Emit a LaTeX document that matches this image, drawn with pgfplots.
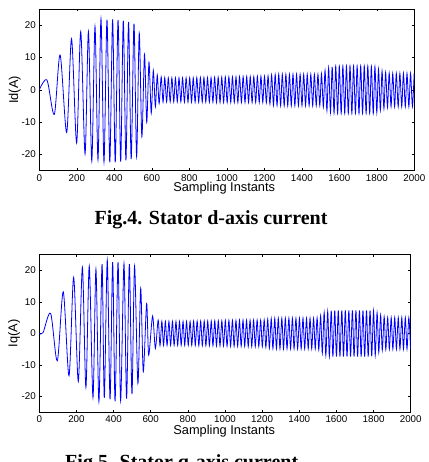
\documentclass[border=0pt]{standalone}
\usepackage{fontspec}
\setmainfont{Liberation Sans}
\newfontfamily\capfont{Liberation Serif}
\usepackage{pgfplots}
\pgfplotsset{compat=1.18}
\pgfplotstableread{
x y
0 0
41 3.0
80 -7.6
111 10.8
146 -13.2
172 15.8
199 -16.4
221 18.0
244 -19.8
262 18.0
280 -22.0
297 19.6
313 -21.6
329 22.0
345 -22.3
361 21.7
376 -22.4
391 21.8
405 -22.4
420 21.6
434 -22.2
448 21.4
462 -21.8
476 21.0
490 -21.4
505 20.5
519 -20.6
533 17.5
547 -14.5
561 11.0
573 -10.0
585 8.5
597 -7.2
608 6.0
619 -5.2
629 4.6
639 -4.2
650 4.0
660 -3.8
669 3.8
679 -3.7
688 3.7
698 -3.7
707 3.7
717 -3.7
726 3.7
736 -3.7
745 3.7
755 -3.7
764 3.7
774 -3.8
783 3.7
793 -3.8
802 3.7
812 -3.8
821 3.7
831 -3.8
840 3.8
850 -3.8
859 3.8
869 -3.8
878 3.8
888 -3.8
897 3.8
907 -3.8
916 3.8
926 -3.8
935 3.9
945 -3.9
954 3.9
964 -3.9
973 3.9
983 -3.9
992 4.0
1002 -3.9
1011 4.0
1021 -3.9
1030 4.0
1040 -3.9
1049 4.0
1059 -3.9
1068 4.1
1078 -3.9
1087 4.1
1097 -3.9
1106 4.1
1116 -3.9
1125 4.1
1135 -3.9
1144 4.1
1154 -3.9
1163 4.2
1173 -3.9
1182 4.2
1192 -3.9
1201 4.2
1211 -4.0
1220 4.3
1230 -4.4
1239 4.6
1249 -4.8
1258 4.7
1268 -4.8
1277 4.8
1287 -4.9
1296 4.8
1306 -4.9
1315 4.8
1325 -4.9
1334 4.8
1344 -4.9
1353 4.8
1363 -4.9
1372 4.8
1382 -4.9
1391 4.8
1401 -4.9
1410 4.8
1420 -4.9
1429 4.8
1439 -4.9
1448 4.8
1458 -4.9
1467 4.8
1477 -4.9
1486 4.8
1496 -4.9
1505 5.0
1515 -5.3
1524 6.0
1534 -6.4
1543 6.8
1553 -7.0
1562 7.1
1572 -7.2
1581 7.3
1591 -7.3
1600 7.3
1610 -7.3
1619 7.4
1629 -7.3
1638 7.4
1648 -7.3
1657 7.4
1667 -7.3
1676 7.4
1686 -7.3
1695 7.4
1705 -7.3
1714 7.4
1724 -7.3
1733 7.4
1743 -7.3
1752 7.4
1762 -7.3
1771 7.3
1781 -7.3
1790 7.2
1800 -7.0
1809 6.4
1819 -6.3
1828 5.8
1838 -5.8
1847 5.4
1857 -5.4
1866 5.2
1876 -5.2
1885 5.1
1895 -5.2
1904 5.1
1914 -5.2
1923 5.1
1933 -5.2
1942 5.1
1952 -5.2
1961 5.1
1971 -5.2
1980 5.1
1990 -5.2
1999 5.0
}\idtable
\pgfplotstableread{
x y
0 0
20 0.2
61 6.3
97 -8.7
129 13.2
160 -13.5
185 17.8
210 -15.3
232 21.0
251 -17.2
269 21.4
289 -20.4
305 20.4
321 -21.7
338 22.0
350 -20.5
366 23.3
381 -21.0
395 22.6
408 -21.6
424 22.6
438 -21.4
456 22.2
470 -20.7
485 22.0
499 -19.3
513 21.4
531 -15.9
546 14.3
560 -12.2
578 9.5
589 -6.9
610 5.5
625 -4.8
640 4.2
650 -3.9
660 3.8
669 -3.8
679 3.8
688 -3.8
698 3.8
707 -3.8
717 3.8
726 -3.8
736 3.8
745 -3.8
755 3.8
764 -3.8
774 3.8
783 -3.8
793 3.8
802 -3.8
812 3.8
821 -3.8
831 3.9
840 -3.8
850 3.9
859 -3.9
869 3.9
878 -3.9
888 3.9
897 -3.9
907 3.9
916 -3.9
926 3.9
935 -3.9
945 4.0
954 -4.0
964 4.0
973 -4.0
983 4.0
992 -4.0
1002 4.1
1011 -4.1
1021 4.1
1030 -4.1
1040 4.1
1049 -4.1
1059 4.1
1068 -4.1
1078 4.2
1087 -4.1
1097 4.2
1106 -4.1
1116 4.2
1125 -4.2
1135 4.2
1144 -4.2
1154 4.2
1163 -4.2
1173 4.2
1182 -4.2
1192 4.2
1201 -4.2
1211 4.3
1220 -4.4
1230 4.5
1239 -4.7
1249 4.7
1258 -4.8
1268 4.8
1277 -4.9
1287 4.8
1296 -4.9
1306 4.8
1315 -4.9
1325 4.8
1334 -4.9
1344 4.8
1353 -4.9
1363 4.8
1372 -4.9
1382 4.8
1391 -4.9
1401 4.8
1410 -4.9
1420 4.8
1429 -4.9
1439 4.8
1448 -4.9
1458 4.8
1467 -4.9
1477 4.8
1486 -4.9
1496 4.9
1505 -5.2
1515 5.6
1524 -6.3
1534 6.6
1543 -7.0
1553 7.0
1562 -7.3
1572 7.2
1581 -7.4
1591 7.3
1600 -7.4
1610 7.3
1619 -7.4
1629 7.3
1638 -7.4
1648 7.3
1657 -7.4
1667 7.3
1676 -7.4
1686 7.3
1695 -7.4
1705 7.3
1714 -7.4
1724 7.3
1733 -7.4
1743 7.3
1752 -7.4
1762 7.3
1771 -7.4
1781 7.3
1790 -7.3
1800 7.2
1809 -7.0
1819 6.6
1828 -6.0
1838 5.8
1847 -5.4
1857 5.3
1866 -5.1
1876 5.0
1885 -5.0
1895 5.0
1904 -5.0
1914 5.0
1923 -5.0
1933 5.0
1942 -5.0
1952 5.0
1961 -5.0
1971 5.0
1980 -5.0
1990 5.0
1999 -5.0
}\iqtable
\pgfplotsset{
  myaxis/.style={
    scale only axis,
    xmin=0, xmax=2000, ymin=-25, ymax=25,
    xtick={0,200,400,600,800,1000,1200,1400,1600,1800,2000},
    xticklabels={0,200,400,600,800,1000,1200,1400,1600,1800,2000},
    ytick={-20,-10,0,10,20},
    yticklabels={-20,-10,0,10,20},
    tick align=inside,
    major tick length=2.5pt,
    tick style={black, line width=0.6pt},
    axis line style={black, line width=0.8pt},
    ticklabel style={font=\fontsize{9.8}{11}\selectfont},
    label style={font=\fontsize{12.8}{14}\selectfont},
    xlabel={Sampling Instants},
  },
  curve/.style={color=blue, line width=0.8pt, smooth, no markers},
}
\begin{document}
\begin{tikzpicture}[x=1pt,y=1pt]
\useasboundingbox (0,0) rectangle (428,-462);
\clip (0,0) rectangle (428,-462);
\begin{axis}[myaxis,
  at={(39.3pt,-170.7pt)}, anchor=south west,
  width=375pt, height=161.7pt,
  xlabel style={at={(axis description cs:0.493,-0.131)}, anchor=base},
  ylabel={Id(A)},
  ylabel style={at={(axis description cs:-0.0656,0.5)}, anchor=center},
]
\addplot[curve] table[x=x,y=y] {\idtable};
\end{axis}
\node[anchor=base, font=\fontsize{20}{22}\selectfont\capfont\bfseries] at (211,-224) {Fig.4. Stator d-axis current};
\begin{axis}[myaxis,
  at={(39.3pt,-412pt)}, anchor=south west,
  width=371.4pt, height=157.3pt,
  xlabel style={at={(axis description cs:0.498,-0.142)}, anchor=base},
  ylabel={Iq(A)},
  ylabel style={at={(axis description cs:-0.068,0.5)}, anchor=center},
]
\addplot[curve] table[x=x,y=y] {\iqtable};
\end{axis}
\node[anchor=base, font=\fontsize{20}{22}\selectfont\capfont\bfseries] at (181.7,-468) {Fig.5. Stator q-axis current};
\end{tikzpicture}
\end{document}
